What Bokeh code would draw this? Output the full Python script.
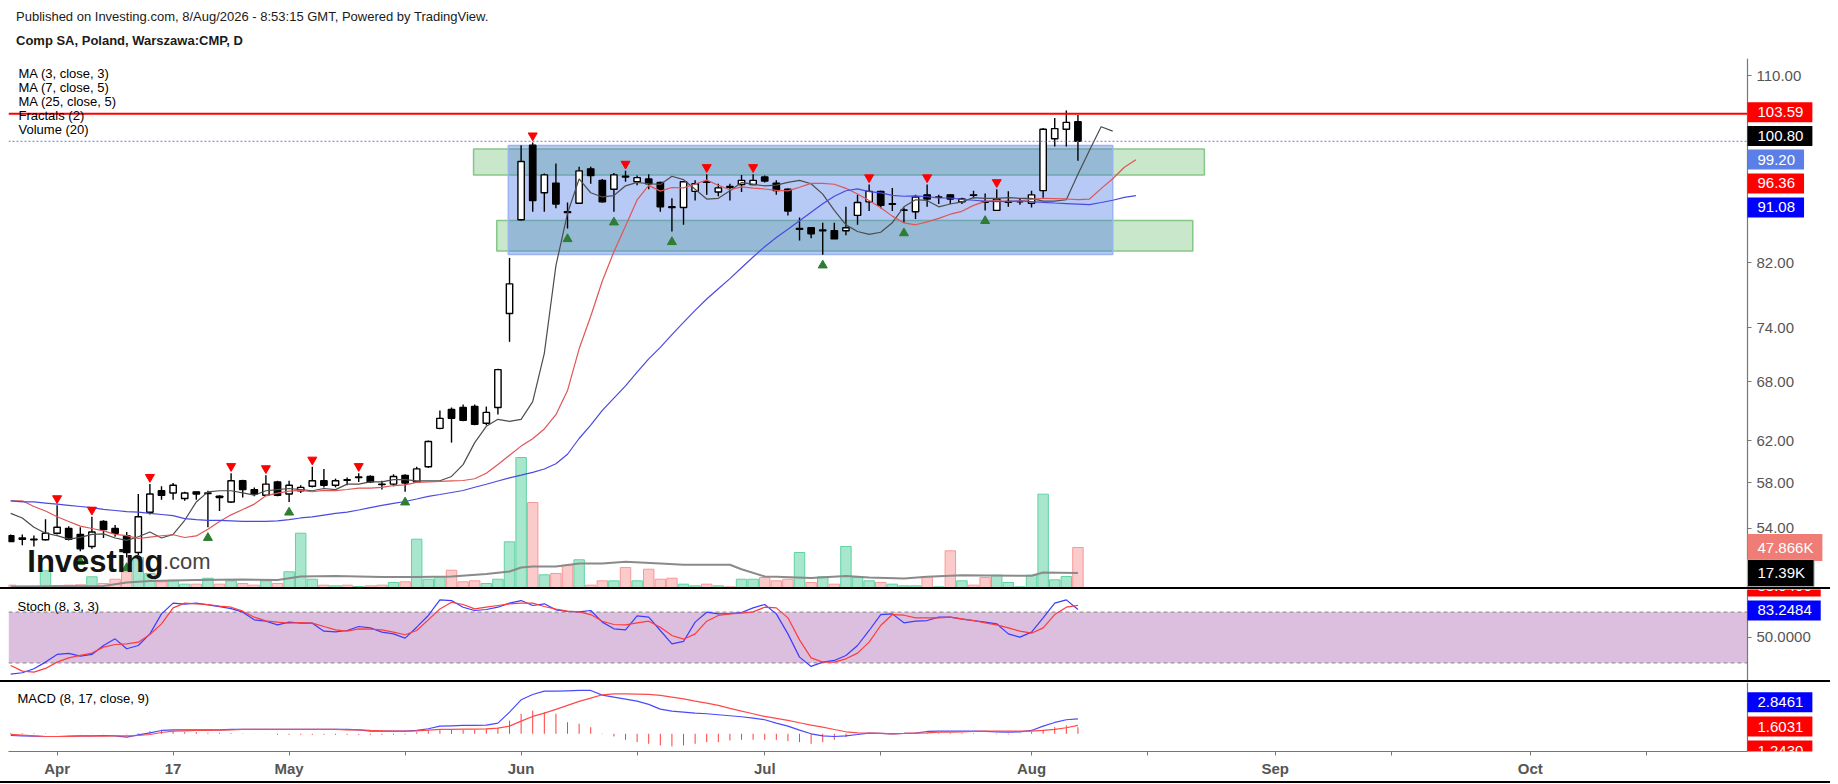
import numpy as np
from bokeh.plotting import figure
from bokeh.models import (Range1d, LinearScale, FixedTicker, PrintfTickFormatter,
                          Label, ColumnDataSource, Div, BoxAnnotation)
from bokeh.layouts import column
from bokeh.embed import file_html
from bokeh.resources import INLINE

FONT = "Liberation Sans"

# ---------------- data (bar index 0 = 1 Apr 2026, trading days) ----------------
bar_index = list(range(-4, 89))

opens = [
    53.4, 53.2, 53.1, 53.05, 53.6, 54.0, 53.5, 52.5, 54.6, 54.0,
    53.4, 52.0, 55.4, 57.3, 57.1, 56.6, 57.2, 57.05, 56.8, 56.3,
    58.2, 57.4, 56.9, 58.1, 57.0, 57.3, 57.7, 58.2, 57.8, 58.3,
    58.5, 58.6, 57.9, 57.9, 58.7, 58.1, 59.5, 63.2, 65.1, 65.3,
    65.4, 63.7, 65.3, 75.7, 87.7, 98.6, 91.5, 92.9, 88.8, 90.0,
    95.0, 93.3, 92.0, 93.9, 93.1, 93.5, 93.0, 89.5, 89.4, 91.7,
    93.1, 91.6, 92.4, 92.7, 92.7, 93.8, 92.9, 92.0, 86.4, 86.6,
    86.2, 86.2, 86.2, 88.3, 90.2, 91.7, 89.85, 89.0, 88.8, 91.2,
    90.85, 91.2, 90.2, 91.2, 90.2, 89.0, 90.15, 90.2, 90.0, 91.8,
    99.6, 101.1, 102.3]
highs = [
    53.5, 53.5, 53.4, 54.8, 56.0, 54.2, 54.1, 55.0, 54.7, 54.3,
    53.7, 57.0, 57.9, 57.7, 58.0, 57.2, 57.2, 57.3, 56.9, 58.9,
    58.3, 57.6, 58.7, 58.2, 58.2, 57.8, 59.5, 59.3, 58.4, 58.5,
    58.9, 58.7, 58.2, 58.8, 58.8, 59.5, 62.0, 65.0, 65.3, 65.6,
    65.6, 65.4, 69.4, 82.6, 98.6, 99.0, 94.3, 95.8, 90.1, 95.3,
    95.3, 93.5, 94.4, 94.7, 94.0, 94.2, 93.1, 90.7, 93.2, 93.3,
    94.2, 92.8, 92.8, 94.1, 94.2, 94.0, 93.3, 92.1, 88.0, 86.7,
    87.3, 87.3, 89.5, 91.2, 92.7, 91.8, 92.2, 89.4, 91.2, 92.7,
    91.2, 91.3, 90.8, 91.8, 91.4, 92.0, 91.7, 90.6, 91.8, 101.3,
    102.9, 104.1, 103.4]
lows = [
    52.9, 52.6, 52.5, 53.0, 53.5, 53.0, 52.1, 52.3, 53.2, 53.3,
    51.6, 51.8, 55.2, 56.5, 56.5, 56.4, 56.5, 54.1, 55.5, 56.2,
    56.7, 56.8, 56.9, 56.8, 56.3, 57.1, 57.6, 57.6, 57.6, 57.8,
    58.1, 58.0, 57.4, 57.7, 57.2, 58.0, 59.4, 63.1, 61.8, 63.9,
    63.5, 63.5, 64.6, 72.4, 87.6, 88.8, 88.8, 89.3, 86.5, 89.9,
    92.8, 90.1, 88.8, 93.1, 92.6, 92.0, 88.8, 86.1, 87.0, 90.4,
    91.2, 91.0, 90.4, 91.6, 92.6, 93.0, 91.2, 88.3, 84.9, 85.2,
    83.0, 85.1, 85.6, 87.0, 88.9, 89.3, 88.9, 87.3, 87.8, 89.5,
    89.9, 89.9, 89.9, 90.7, 89.0, 88.9, 89.5, 89.8, 89.4, 90.8,
    98.4, 98.4, 96.2]
closes = [
    52.9, 53.1, 53.05, 53.6, 54.1, 53.1, 52.3, 53.7, 53.9, 53.6,
    52.0, 55.0, 57.0, 56.9, 57.8, 57.1, 57.0, 57.1, 56.7, 58.2,
    57.4, 57.0, 57.9, 56.9, 57.8, 57.6, 58.2, 57.8, 58.2, 58.25,
    58.55, 58.1, 57.85, 58.6, 58.0, 59.3, 61.9, 64.2, 64.2, 64.0,
    63.6, 64.8, 69.3, 79.3, 96.1, 90.4, 94.1, 89.9, 88.7, 94.7,
    94.0, 90.2, 94.1, 93.8, 93.7, 92.8, 89.5, 89.4, 93.1, 92.8,
    93.0, 92.2, 92.3, 93.3, 93.3, 93.2, 91.8, 88.9, 86.5, 85.8,
    86.3, 85.1, 86.6, 90.1, 91.7, 89.7, 89.95, 89.05, 90.9, 90.6,
    90.9, 90.6, 90.6, 91.15, 90.15, 90.6, 90.25, 90.2, 91.2, 101.1,
    101.2, 102.2, 99.2]
volume = [
    2800, 1500, 1500, 20000, 2000, 2800, 3200, 12800, 4800, 9900,
    18800, 35900, 16800, 6800, 8700, 4000, 4000, 11100, 4000, 8000,
    4800, 2800, 8000, 4800, 18800, 65000, 9900, 2800, 2000, 2800,
    1200, 2000, 2800, 6000, 6800, 57800, 9900, 12800, 20700, 6800,
    8000, 4800, 9900, 54700, 155600, 101700, 15200, 16800, 26700, 33200,
    2800, 8000, 8000, 23900, 8000, 21900, 9900, 11100, 4000, 2000,
    4000, 2000, 800, 9900, 9900, 12000, 8000, 9900, 41900, 6000,
    12800, 4000, 49100, 12000, 8000, 6000, 4000, 2000, 2000, 13200,
    800, 43900, 8000, 2800, 12000, 14700, 6000, 800, 14700, 111700,
    9200, 13200, 47866]

vol_ma_x = [-4, 4, 6, 8, 12, 16, 19, 21, 24, 28, 31, 34, 37, 39, 40, 41, 43, 45,
            47, 49, 52, 54, 58, 59, 61, 62, 65, 68, 70, 73, 75, 78, 84, 85, 88]
vol_ma = [1200, 1800, 6000, 7800, 9000, 9600, 9000, 13200, 13800, 12600, 12600,
          13200, 16200, 19200, 23900, 25100, 25100, 28700, 28700, 30800, 28700,
          27200, 27200, 21900, 13200, 12800, 11400, 13800, 12000, 10800, 12800,
          14700, 14000, 18000, 17390]

# moving averages (drawn shifted: MA3 by 3 bars, MA7/MA25 by 5 bars)
ma3_x = list(range(-4, 92))
ma3 = [
    55.3, 54.9, 54.1, 53.6, 53.4, 53.1, 53.25, 53.5, 53.55, 53.2,
    53.0, 53.3, 53.7, 53.2, 53.5, 54.7, 56.3, 57.2, 57.3, 57.3,
    57.1, 56.9, 57.3, 57.4, 57.5, 57.4, 57.3, 57.5, 57.4, 57.9,
    57.9, 58.1, 58.1, 58.3, 58.3, 58.2, 58.2, 58.2, 58.6, 59.7,
    61.8, 63.4, 64.1, 63.9, 64.1, 65.9, 71.1, 81.6, 88.6, 93.5,
    91.5, 90.9, 91.1, 92.5, 93.0, 92.8, 92.7, 93.9, 93.4, 92.0,
    90.6, 90.7, 91.8, 93.0, 92.7, 92.5, 92.6, 93.0, 93.3, 92.8,
    91.3, 89.0, 87.0, 86.1, 85.7, 86.0, 87.3, 89.5, 90.5, 90.4,
    89.5, 89.9, 90.2, 90.8, 90.7, 90.7, 90.8, 90.7, 90.7, 90.3,
    90.3, 90.5, 94.2, 97.8, 101.5, 100.80]
ma7_x = list(range(-4, 94))
ma7 = [
    56.4, 56.4, 55.9, 55.5, 55.0, 54.6, 54.2, 54.0, 53.8, 53.5,
    53.4, 53.16, 53.28, 53.39, 53.47, 53.24, 53.37, 53.93, 54.59, 55.17,
    55.63, 56.11, 56.84, 57.09, 57.26, 57.33, 57.21, 57.33, 57.31, 57.41,
    57.54, 57.54, 57.6, 57.77, 57.83, 58.06, 58.1, 58.14, 58.2, 58.23,
    58.39, 58.9, 59.71, 60.59, 61.46, 62.17, 63.14, 64.57, 67.06, 71.61,
    75.36, 79.66, 83.41, 86.84, 90.47, 92.57, 91.73, 92.26, 92.21, 92.76,
    93.33, 92.59, 91.93, 92.34, 92.16, 92.04, 91.83, 91.76, 92.3, 92.86,
    92.87, 92.73, 92.14, 91.31, 90.39, 89.37, 88.2, 87.26, 87.01, 87.41,
    87.89, 88.47, 88.87, 89.7, 90.27, 90.39, 90.23, 90.36, 90.54, 90.71,
    90.67, 90.61, 90.51, 90.6, 92.1, 93.53, 95.24, 96.36]
ma25_x = list(range(-4, 94))
ma25 = [
    56.4, 56.3, 56.3, 56.2, 56.1, 56.0, 55.9, 55.8, 55.65, 55.55,
    55.45, 55.4, 55.3, 55.2, 55.1, 54.85, 54.75, 54.7, 54.7, 54.65,
    54.6, 54.6, 54.6, 54.65, 54.75, 54.9, 55.0, 55.15, 55.3, 55.41,
    55.59, 55.8, 55.99, 56.17, 56.34, 56.56, 56.79, 56.96, 57.14, 57.32,
    57.61, 57.89, 58.18, 58.47, 58.72, 58.98, 59.29, 59.78, 60.68, 62.2,
    63.52, 65.0, 66.28, 67.56, 69.03, 70.49, 71.77, 73.22, 74.64, 76.06,
    77.43, 78.69, 79.95, 81.33, 82.72, 84.07, 85.28, 86.4, 87.57, 88.74,
    89.92, 91.0, 91.79, 92.07, 91.66, 91.49, 91.13, 91.0, 91.05, 90.93,
    90.76, 90.75, 90.54, 90.43, 90.3, 90.23, 90.27, 90.32, 90.24, 90.14,
    90.04, 89.96, 89.88, 89.8, 90.11, 90.43, 90.84, 91.08]

fractal_up = [0, 3, 8, 15, 18, 22, 26, 41, 49, 56, 60, 70, 75, 81]
fractal_down = [2, 6, 13, 20, 30, 44, 48, 53, 66, 73, 80]

stoch_k = [
    6.6, 8.2, 12.9, 20.8, 29.9, 31.1, 27.9, 29.9, 40.5, 48.4,
    36.6, 40.5, 54.3, 78.0, 90.7, 89.5, 90.7, 88.7, 86.7, 84.3,
    80.0, 70.9, 69.3, 65.0, 68.2, 67.0, 67.0, 57.5, 56.7, 58.3,
    63.0, 61.4, 56.3, 54.3, 49.2, 62.2, 76.1, 94.6, 93.8, 85.9,
    82.0, 83.2, 85.9, 90.7, 93.8, 87.9, 89.9, 82.8, 80.8, 80.4,
    82.0, 68.2, 60.3, 59.1, 75.7, 74.1, 58.3, 42.5, 45.3, 68.2,
    80.0, 78.0, 78.4, 79.6, 85.1, 89.1, 78.0, 54.3, 26.7, 15.7,
    20.8, 22.8, 28.7, 40.5, 58.3, 77.2, 78.0, 67.4, 69.3, 70.1,
    74.1, 74.1, 71.7, 70.1, 68.2, 66.2, 54.3, 50.4, 56.3, 73.3,
    90.7, 94.6, 83.2484]
stoch_d = [
    16.8, 10.1, 8.9, 13.3, 20.8, 25.9, 28.7, 31.5, 38.6, 41.7,
    42.5, 44.5, 53.6, 66.2, 85.1, 90.7, 89.9, 89.1, 87.1, 85.9,
    81.2, 74.1, 69.7, 68.2, 67.0, 67.8, 67.0, 63.0, 59.1, 57.5,
    60.3, 59.9, 59.1, 56.3, 53.2, 58.3, 70.9, 83.9, 91.8, 89.1,
    83.9, 85.9, 87.9, 89.9, 90.7, 90.7, 86.7, 83.6, 81.2, 80.4,
    77.2, 69.3, 65.4, 65.0, 67.4, 69.3, 62.2, 52.4, 48.0, 54.3,
    69.3, 76.1, 78.0, 78.8, 80.4, 85.9, 85.1, 73.3, 47.2, 25.9,
    20.8, 20.8, 24.7, 31.5, 44.5, 64.2, 77.2, 76.4, 73.3, 73.3,
    73.3, 74.1, 72.1, 70.1, 67.4, 65.0, 61.4, 57.5, 55.1, 61.4,
    77.2, 85.9, 88.0406]
stoch_levels = [20, 80]

macd = [
    -0.32, -0.38, -0.44, -0.51, -0.51, -0.44, -0.38, -0.38, -0.32, -0.38,
    -0.63, -0.19, 0.19, 0.63, 0.76, 0.76, 0.76, 0.76, 0.76, 0.82,
    0.82, 0.82, 0.82, 0.82, 0.82, 0.82, 0.82, 0.82, 0.82, 0.82,
    0.76, 0.51, 0.51, 0.51, 0.51, 0.63, 0.95, 1.45, 1.52, 1.58,
    1.58, 1.64, 2.02, 4.11, 6.45, 7.46, 8.10, 8.10, 8.16, 8.22,
    8.22, 7.34, 6.96, 6.58, 6.20, 5.57, 4.68, 4.30, 4.11, 3.92,
    3.80, 3.61, 3.42, 3.23, 2.97, 2.66, 2.02, 1.45, 0.70, 0.0,
    -0.38, -0.51, -0.38, -0.13, 0.13, 0.06, 0.0, 0.06, 0.13, 0.44,
    0.51, 0.51, 0.51, 0.51, 0.44, 0.38, 0.32, 0.38, 0.63, 1.45,
    2.15, 2.66, 2.8461]
macd_signal = [
    -0.13, -0.25, -0.38, -0.51, -0.51, -0.51, -0.44, -0.44, -0.44, -0.38,
    -0.38, -0.32, -0.13, 0.25, 0.51, 0.57, 0.63, 0.63, 0.70, 0.76,
    0.82, 0.82, 0.82, 0.82, 0.82, 0.82, 0.82, 0.82, 0.82, 0.76,
    0.76, 0.63, 0.57, 0.51, 0.51, 0.57, 0.70, 0.82, 0.82, 0.89,
    0.89, 0.95, 1.08, 1.45, 2.40, 3.29, 3.92, 4.62, 5.38, 6.14,
    6.77, 7.40, 7.59, 7.59, 7.53, 7.46, 7.27, 6.96, 6.64, 6.20,
    5.82, 5.38, 4.81, 4.30, 3.80, 3.29, 2.91, 2.53, 2.09, 1.64,
    1.26, 0.82, 0.38, 0.19, 0.13, 0.06, 0.0, 0.06, 0.13, 0.19,
    0.32, 0.32, 0.38, 0.44, 0.51, 0.51, 0.51, 0.51, 0.51, 0.63,
    0.82, 1.14, 1.6031]
macd_hist = [
    0.13, 0.13, 0.10, 0.08, 0.05, 0.03, 0.03, 0.03, 0.03, 0.0,
    -0.1, 0.13, 0.5, 0.63, 0.5, 0.32, 0.32, 0.19, 0.19, 0.13,
    0.06, 0.03, 0.03, -0.19, -0.19, -0.19, -0.19, -0.19, -0.19, -0.19,
    -0.19, -0.19, -0.19, -0.19, -0.15, 0.3, 0.63, 0.76, 0.76, 0.76,
    0.76, 0.95, 1.14, 2.5, 3.8, 4.4, 4.1, 3.8, 2.2, 1.9,
    1.26, -0.06, -0.5, -1.14, -1.58, -1.9, -2.2, -2.4, -2.2, -1.9,
    -1.58, -1.58, -1.26, -1.14, -1.14, -1.14, -1.14, -1.39, -1.58, -1.9,
    -1.58, -1.14, -0.63, -0.13, 0.06, 0.1, 0.1, 0.1, 0.1, 0.13,
    0.13, 0.13, 0.13, 0.1, 0.0, -0.1, -0.13, -0.05, 0.3, 0.76,
    1.26, 1.58, 1.2430]

# drawings
zone_left = [35.9, 37.9]
zone_right = [98.9, 97.9]
zone_bottom = [94.1, 83.5]
zone_top = [98.0, 87.6]
box_left = [38.9]
box_right = [91.0]
box_bottom = [83.04]
box_top = [98.55]
resistance_level = 103.59

price_ticks = [54, 58, 62, 68, 74, 82, 110]
date_ticks = [0, 10, 20, 30, 40, 50, 61, 71, 84, 94, 105, 115, 127, 137]
date_labels = ["Apr", "17", "May", "", "Jun", "", "Jul", "", "Aug", "", "Sep", "", "Oct", ""]

header1 = "Published on Investing.com, 8/Aug/2026 - 8:53:15 GMT, Powered by TradingView."
header2 = "Comp SA, Poland, Warszawa:CMP, D"
legend_lines = ["MA (3, close, 3)", "MA (7, close, 5)", "MA (25, close, 5)", "Fractals (2)", "Volume (20)"]

# ---------------- layout constants ----------------
PAGE_W = 1830
LEFT_PAD = 8
FRAME_W = PAGE_W - LEFT_PAD          # frame also covers the price-scale strip
X0 = -4.19                           # left edge of the chart
X_AXIS = 145.72                      # where the price scale sits
X1 = X0 + (X_AXIS - X0) * FRAME_W / 1739.0
xr = Range1d(X0, X1)

x = np.array(bar_index, dtype=float)
o = np.array(opens); h = np.array(highs); l = np.array(lows); c = np.array(closes)
up = c >= o


def base_fig(frame_h, y_range, **kw):
    p = figure(frame_width=FRAME_W, frame_height=frame_h, x_range=xr, y_range=y_range,
               y_axis_location="right", toolbar_location=None, output_backend="svg",
               min_border_left=LEFT_PAD, min_border_right=0, outline_line_color=None,
               background_fill_color="white", border_fill_color="white", **kw)
    p.grid.visible = False
    ax = p.yaxis[0]
    ax.fixed_location = X_AXIS
    ax.axis_line_color = "#777777"
    ax.axis_line_width = 1.2
    ax.major_tick_line_color = "#777777"
    ax.major_tick_out = 4
    ax.major_tick_in = 0
    ax.minor_tick_line_color = None
    ax.major_label_text_font = FONT
    ax.major_label_text_font_size = "15px"
    ax.major_label_text_color = "#555555"
    ax.major_label_standoff = 5
    return p


def tag(fig, text, yv, color, y_offset=0, y_range_name="default", border=None):
    fig.add_layout(Label(x=X_AXIS, y=yv, y_range_name=y_range_name, text=text,
                         text_font=FONT, text_font_size="15px", text_color="white",
                         text_align="left", text_baseline="middle",
                         background_fill_color=color, background_fill_alpha=1.0,
                         border_line_color=border,
                         padding=dict(left=10, right=9, top=5, bottom=5),
                         y_offset=y_offset))


def note(fig, text, xs, ys, size="13px", style="normal", color="black", baseline="middle"):
    fig.add_layout(Label(x=xs, y=ys, x_units="screen", y_units="screen", text=text,
                         text_font=FONT, text_font_size=size, text_font_style=style,
                         text_color=color, text_align="left", text_baseline=baseline))


# ---------------- header ----------------
fstyle = "font-family:'Liberation Sans',Arial,sans-serif;font-size:13px;line-height:18px;color:#1a1a1a;"
header = Div(text=(f'<div style="{fstyle}padding-left:16px;padding-top:8px;white-space:nowrap;">{header1}</div>'
                   f'<div style="{fstyle}padding-left:16px;margin-top:6px;font-weight:bold;white-space:nowrap;">{header2}</div>'),
             width=PAGE_W, height=58, margin=0)

# ---------------- main price pane ----------------
MAIN_H = 529
main = base_fig(MAIN_H, Range1d(49.22, 112.98), y_axis_type="log", x_axis_location=None,
                min_border_top=0, min_border_bottom=0)
main.yaxis.ticker = FixedTicker(ticks=price_ticks)
main.yaxis.formatter = PrintfTickFormatter(format="%.2f")
main.extra_y_ranges = {"vol": Range1d(0, 633200)}
main.extra_y_scales = {"vol": LinearScale()}

vsrc = ColumnDataSource(dict(
    x=x, top=volume,
    fill=["#26c281" if u else "#ef5350" for u in up],
    falpha=[0.4 if u else 0.3 for u in up],
    line=["#5fd3a3" if u else "#f59a98" for u in up]))
main.vbar(x="x", top="top", bottom=0, width=0.9, source=vsrc, y_range_name="vol",
          fill_color="fill", fill_alpha="falpha", line_color="line", line_width=1)
main.line(vol_ma_x, vol_ma, y_range_name="vol", line_color="#8a8a8a", line_width=2)

main.quad(left=zone_left, right=zone_right, bottom=zone_bottom, top=zone_top,
          fill_color="#4caf50", fill_alpha=0.3, line_color="#86c787", line_width=1.5)
main.quad(left=box_left, right=box_right, bottom=box_bottom, top=box_top,
          fill_color="#4a78e6", fill_alpha=0.4, line_color="#9ab4ee", line_width=1.5)

csrc = ColumnDataSource(dict(
    x=x, h=h, l=l,
    top=np.maximum(o, c), bot=np.minimum(o, c),
    fill=["white" if u else "black" for u in up]))
main.segment(x0="x", y0="l", x1="x", y1="h", source=csrc, line_color="black", line_width=1.4)
main.vbar(x="x", top="top", bottom="bot", width=0.55, source=csrc,
          fill_color="fill", line_color="black", line_width=1.4)

main.line(ma3_x, ma3, line_color="#4d4d4d", line_width=1.2)
main.line(ma7_x, ma7, line_color="#e05555", line_width=1.2)
main.line(ma25_x, ma25, line_color="#4a4ae0", line_width=1.2)

pos = {b: k for k, b in enumerate(bar_index)}
fu = [pos[b] for b in fractal_up]
fd = [pos[b] for b in fractal_down]
main.scatter(x=x[fu], y=h[fu] * np.exp(7 / 636.6), marker="inverted_triangle", size=9,
             fill_color="#ff0000", line_color="#ff0000")
main.scatter(x=x[fd], y=l[fd] * np.exp(-10.5 / 636.6), marker="triangle", size=9,
             fill_color="#2e7d32", line_color="#2e7d32")

# horizontal level line and last-price line, ending at the price scale
main.segment(x0=[X0], x1=[X_AXIS], y0=[resistance_level], y1=[resistance_level],
             line_color="#ff0000", line_width=2)
main.segment(x0=[X0], x1=[X_AXIS], y0=[closes[-1]], y1=[closes[-1]],
             line_color="#5b7fe6", line_dash="2 2", line_width=1)

note(main, "Investing", 18.8, 26.3, size="31px", style="bold", color="#141414", baseline="alphabetic")
note(main, ".com", 154.5, 26.3, size="22px", color="#444444", baseline="alphabetic")

for k, t in enumerate(legend_lines):
    note(main, t, 10, MAIN_H - 14.7 - 14 * k)

tag(main, f"{resistance_level:.2f}", resistance_level, "#ff0000", y_offset=1.5)
tag(main, f"{ma3[-1]:.2f}", ma3[-1], "#000000", y_offset=-4.9)
tag(main, f"{closes[-1]:.2f}", closes[-1], "#5b7fe6", y_offset=-18.2)
tag(main, f"{ma7[-1]:.2f}", ma7[-1], "#ff0000", y_offset=-23.6)
tag(main, f"{ma25[-1]:.2f}", ma25[-1], "#0000ff", y_offset=-11.8)
tag(main, f"{volume[-1]/1000:.3f}K", volume[-1], "#f07c76", y_range_name="vol")
tag(main, f"{vol_ma[-1]/1000:.2f}K", vol_ma[-1], "#000000", y_range_name="vol", border="#aaaaaa")

# ---------------- stochastic pane ----------------
stoch = base_fig(91, Range1d(-1.0, 106.9), x_axis_location=None, min_border_top=0, min_border_bottom=0)
stoch.yaxis.ticker = FixedTicker(ticks=[50])
stoch.yaxis.formatter = PrintfTickFormatter(format="%.4f")
stoch.add_layout(BoxAnnotation(bottom=stoch_levels[0], top=stoch_levels[1], right=X_AXIS,
                               fill_color="#dcbfdf", fill_alpha=1.0, line_color=None, level="underlay"))
stoch.segment(x0=[X0, X0], x1=[X_AXIS, X_AXIS], y0=stoch_levels, y1=stoch_levels,
              line_color="#9a8f9a", line_dash="4 3", line_width=1.2)
stoch.line(x, stoch_k, line_color="#3c3cff", line_width=1.2)
stoch.line(x, stoch_d, line_color="#ff3c3c", line_width=1.2)
note(stoch, "Stoch (8, 3, 3)", 9, 74)
tag(stoch, f"{stoch_d[-1]:.4f}", stoch_d[-1], "#ff0000", y_offset=19)
tag(stoch, f"{stoch_k[-1]:.4f}", stoch_k[-1], "#0000ff", y_offset=-1)

# ---------------- MACD pane ----------------
md = base_fig(69, Range1d(-3.36, 9.73), min_border_top=0, min_border_bottom=30)
md.yaxis.ticker = FixedTicker(ticks=[])
md.segment(x0=x, y0=np.zeros_like(x), x1=x, y1=macd_hist, line_color="#ff3c3c", line_width=1)
md.line(x, macd, line_color="#4a4aff", line_width=1.2)
md.line(x, macd_signal, line_color="#ff4a4a", line_width=1.2)
note(md, "MACD (8, 17, close, 9)", 9, 52.7)
tag(md, f"{macd[-1]:.4f}", macd[-1], "#0000ff", y_offset=16.6)
tag(md, f"{macd_signal[-1]:.4f}", macd_signal[-1], "#ff0000", y_offset=-1.2)
tag(md, f"{macd_hist[-1]:.4f}", macd_hist[-1], "#ff0000", y_offset=-23.3)

xa = md.xaxis[0]
xa.ticker = FixedTicker(ticks=date_ticks)
xa.major_label_overrides = {t: s for t, s in zip(date_ticks, date_labels)}
xa.bounds = (X0, X_AXIS)
xa.axis_line_color = "#777777"
xa.axis_line_width = 1.2
xa.major_tick_line_color = "#777777"
xa.major_tick_out = 4
xa.major_tick_in = 0
xa.minor_tick_line_color = None
xa.major_label_text_font = FONT
xa.major_label_text_font_size = "15px"
xa.major_label_text_font_style = "bold"
xa.major_label_text_color = "#555555"
xa.major_label_standoff = 4


def sep():
    return Div(text="", width=PAGE_W, height=2, margin=0,
               styles={"background-color": "black"})


layout = column(header, main, sep(), stoch, sep(), md, sep(), spacing=0)
open("out.html", "w").write(file_html(layout, INLINE))
